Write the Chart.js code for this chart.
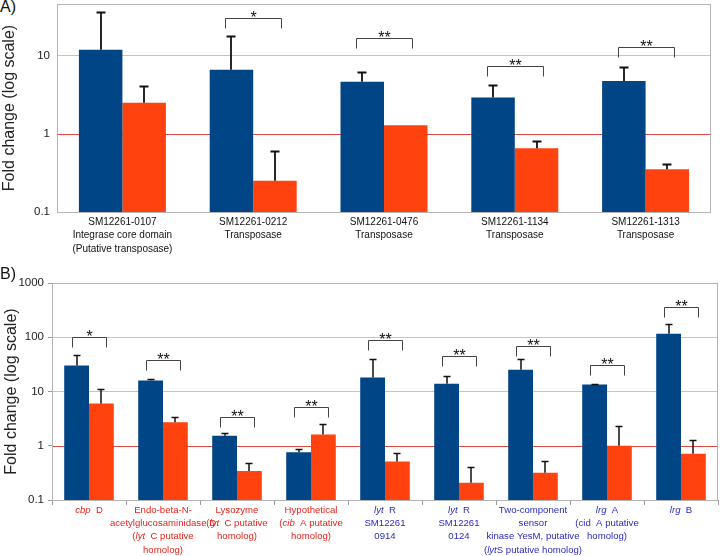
<!DOCTYPE html>
<html lang="en">
<head>
<meta charset="UTF-8">
<title>Fold change</title>
<script src="https://cdn.jsdelivr.net/npm/chart.js@4.4.1/dist/chart.umd.min.js"></script>
<style>
    body {
        margin: 0;
        width: 720px;
        height: 556px;
        position: relative;
        overflow: hidden;
        background: #ffffff;
        font-family: 'Liberation Sans', Arial, sans-serif;
    }
    .panel { position: absolute; left: 0; width: 720px; }
    .tag { position: absolute; left: 0; font-size: 16px; line-height: 16px; color: #111; }
</style>
</head>
<body>

<div class="tag" style="top:-1px">A)</div>
<div class="panel" style="top:0; height:270px"><canvas id="chartA"></canvas></div>
<div class="tag" style="top:266px">B)</div>
<div class="panel" style="top:276px; height:280px"><canvas id="chartB"></canvas></div>

<script>
// ---- panel A data ----
const labelsA = [
    ['SM12261-0107', 'Integrase core domain', '(Putative transposase)'],
    ['SM12261-0212', 'Transposase'],
    ['SM12261-0476', 'Transposase'],
    ['SM12261-1134', 'Transposase'],
    ['SM12261-1313', 'Transposase']
];
const blueA = [11.9, 6.6, 4.64, 2.92, 4.74];
const blueErrA = [36.7, 17.9, 6.24, 4.25, 7.2];   // top of error bar
const orangeA = [2.5, 0.252, 1.29, 0.656, 0.352];
const orangeErrA = [4.16, 0.61, null, 0.80, 0.41];
const sigMarksA = ['', '*', '**', '**', '**'];
const sigLevelsA = [null, 30.7, 17.0, 7.45, 13.0];
const yTicksA = [0.1, 1, 10];

// ---- panel B data ----
// words between *...* are drawn in italics
const labelsB = [
    ['*cbp*  D'],
    ['Endo-beta-N-', 'acetylglucosaminidase D', '(*lyt*  C putative', 'homolog)'],
    ['Lysozyme', '(*lyt*  C putative', 'homolog)'],
    ['Hypothetical', '(*cib*  A putative', 'homolog)'],
    ['*lyt*  R', 'SM12261', '0914'],
    ['*lyt*  R', 'SM12261', '0124'],
    ['Two-component', 'sensor', 'kinase YesM, putative', '(*lyt*S putative homolog)'],
    ['*lrg*  A', '(cid  A putative', 'homolog)'],
    ['*lrg*  B']
];
const blueB = [30.3, 16.0, 1.53, 0.755, 18.2, 13.9, 25.1, 13.5, 115.6];
const blueErrB = [46.8, 16.7, 1.69, 0.88, 39, 19.5, 39, 13.8, 176.6];
const orangeB = [6.0, 2.7, 0.342, 1.62, 0.515, 0.208, 0.318, 1.0, 0.71];
const orangeErrB = [11.1, 3.42, 0.48, 2.51, 0.73, 0.41, 0.53, 2.28, 1.26];
const sigMarksB = ['*', '**', '**', '**', '**', '**', '**', '**', '**'];
const sigLevelsB = [99, 37.4, 3.42, 5.1, 88.5, 45.4, 69.5, 30.3, 354];
const yTicksB = [0.1, 1, 10, 100, 1000];

const baseline = 1;   // no-change reference line

const BLUE = '#004586';
const ORANGE = '#ff420e';
const GRID = '#c4c4c4';
const RED_LINE = '#e0483f';
const FONT = "'Liberation Sans', Arial, sans-serif";
const labelColorsB = labelsB.map((l, i) => i < 4 ? '#e3241b' : '#2b2bc0');

// frame around the plot area + red line at fold change 1 (behind the bars)
const frame = {
    id: 'frame',
    beforeDatasetsDraw(chart) {
        const {ctx, chartArea: a} = chart;
        const y = Math.round(chart.scales.y.getPixelForValue(baseline)) + 0.5;
        ctx.save();
        ctx.strokeStyle = RED_LINE;
        ctx.lineWidth = 1;
        ctx.beginPath();
        ctx.moveTo(a.left, y);
        ctx.lineTo(a.right, y);
        ctx.stroke();
        ctx.strokeStyle = '#b4b4b4';
        ctx.strokeRect(Math.round(a.left) + 0.5, Math.round(a.top) + 0.5,
            Math.round(a.right - a.left) - 1, Math.round(a.bottom - a.top));
        ctx.restore();
    }
};

// error bars drawn upward from each bar top
const errorBars = {
    id: 'errorBars',
    afterDatasetsDraw(chart, args, opts) {
        const ctx = chart.ctx;
        const y = chart.scales.y;
        chart.data.datasets.forEach((ds, d) => {
            chart.getDatasetMeta(d).data.forEach((bar, i) => {
                const top = ds.errTop[i];
                if (top == null) return;
                const yTop = Math.round(y.getPixelForValue(top)) + 0.5;
                const x = Math.round(bar.x);
                ctx.save();
                ctx.strokeStyle = '#111';
                ctx.lineWidth = opts.width;
                ctx.beginPath();
                ctx.moveTo(x, bar.y);
                ctx.lineTo(x, yTop);
                ctx.moveTo(x - opts.cap / 2, yTop);
                ctx.lineTo(x + opts.cap / 2, yTop);
                ctx.stroke();
                ctx.restore();
            });
        });
    }
};

// significance brackets with stars
const sigBrackets = {
    id: 'sigBrackets',
    afterDraw(chart, args, opts) {
        const ctx = chart.ctx;
        const x = chart.scales.x, y = chart.scales.y;
        ctx.save();
        opts.levels.forEach((lv, i) => {
            if (lv == null) return;
            const cx = Math.round(x.getPixelForValue(i)) + 0.5;
            const yy = Math.round(y.getPixelForValue(lv)) + 0.5;
            ctx.strokeStyle = '#444';
            ctx.lineWidth = 1;
            ctx.beginPath();
            ctx.moveTo(cx - opts.half, yy + opts.drop);
            ctx.lineTo(cx - opts.half, yy);
            ctx.lineTo(cx + opts.half, yy);
            ctx.lineTo(cx + opts.half, yy + opts.drop);
            ctx.stroke();
            ctx.fillStyle = '#111';
            ctx.font = '16px ' + FONT;
            ctx.textAlign = 'center';
            ctx.textBaseline = 'alphabetic';
            ctx.fillText(opts.marks[i], cx, yy + 4);
        });
        ctx.restore();
    }
};

// category labels with italic gene names
const richLabels = {
    id: 'richLabels',
    afterDraw(chart, args, opts) {
        if (!opts.labels) return;
        const ctx = chart.ctx;
        const x = chart.scales.x;
        const base = chart.chartArea.bottom;
        ctx.save();
        ctx.textBaseline = 'middle';
        ctx.textAlign = 'left';
        opts.labels.forEach((lines, i) => {
            const cx = x.getPixelForValue(i);
            ctx.fillStyle = opts.colors[i];
            lines.forEach((line, j) => {
                const parts = line.split('*');
                const fonts = parts.map((p, k) => (k % 2 ? 'italic ' : '') + opts.size + 'px ' + FONT);
                let w = 0;
                parts.forEach((p, k) => { ctx.font = fonts[k]; w += ctx.measureText(p).width; });
                let px = cx - w / 2;
                const py = base + opts.first + j * opts.lineHeight;
                parts.forEach((p, k) => {
                    ctx.font = fonts[k];
                    ctx.fillText(p, px, py);
                    px += ctx.measureText(p).width;
                });
            });
        });
        ctx.restore();
    }
};

function makeChart(id, cfg) {
    return new Chart(document.getElementById(id), {
        type: 'bar',
        data: {
            labels: cfg.labels,
            datasets: [
                { data: cfg.blue, errTop: cfg.blueErr, backgroundColor: BLUE,
                  categoryPercentage: cfg.catPct, barPercentage: 1 },
                { data: cfg.orange, errTop: cfg.orangeErr, backgroundColor: ORANGE,
                  categoryPercentage: cfg.catPct, barPercentage: 1 }
            ]
        },
        options: {
            responsive: true,
            maintainAspectRatio: false,
            animation: false,
            layout: { padding: cfg.padding },
            plugins: {
                legend: { display: false },
                tooltip: { enabled: false },
                errorBars: { width: cfg.errWidth, cap: cfg.cap },
                sigBrackets: { levels: cfg.sigLevels, marks: cfg.sigMarks, half: cfg.bracketHalf, drop: 10 },
                richLabels: cfg.rich || {}
            },
            scales: {
                x: {
                    offset: true,
                    border: { display: false },
                    grid: { display: cfg.xTickLen > 0, drawOnChartArea: false, drawTicks: cfg.xTickLen > 0,
                            tickLength: cfg.xTickLen, tickColor: '#9a9a9a', offset: true },
                    ticks: {
                        display: !cfg.rich,
                        maxRotation: 0,
                        autoSkip: false,
                        padding: 3,
                        color: '#111',
                        font: { family: FONT, size: 10, lineHeight: 1.37 }
                    },
                    afterFit: s => { s.height = cfg.xHeight; }
                },
                y: {
                    type: 'logarithmic',
                    min: 0.1,
                    max: cfg.yMax,
                    border: { display: false },
                    grid: {
                        color: c => (c.tick && Math.abs(c.tick.value - baseline) < 1e-9) ? 'rgba(0,0,0,0)' : GRID,
                        tickColor: cfg.yTickColor,
                        tickLength: cfg.yTickLen,
                        drawTicks: true
                    },
                    ticks: {
                        padding: cfg.yTickPad,
                        color: '#222',
                        font: { family: FONT, size: 11.5, lineHeight: 0.5 },
                        callback: v => String(v)
                    },
                    afterBuildTicks: s => { s.ticks = cfg.yTicks.map(v => ({ value: v })); },
                    title: {
                        display: true,
                        text: 'Fold change (log scale)',
                        color: '#222',
                        padding: { top: cfg.titlePad, bottom: 0 },
                        font: { family: FONT, size: 16 }
                    },
                    afterFit: s => { s.width = cfg.yWidth; }
                }
            }
        },
        plugins: [frame, errorBars, sigBrackets, richLabels]
    });
}

makeChart('chartA', {
    labels: labelsA,
    blue: blueA, blueErr: blueErrA,
    orange: orangeA, orangeErr: orangeErrA,
    sigLevels: sigLevelsA, sigMarks: sigMarksA,
    yTicks: yTicksA, yMax: 46,
    catPct: 0.665, errWidth: 1.8, cap: 9, bracketHalf: 28,
    padding: { top: 4, right: 9, left: 0, bottom: 0 },
    xHeight: 58, yWidth: 57, xTickLen: 0,
    yTickLen: 7, yTickPad: 0, yTickColor: 'rgba(0,0,0,0)', titlePad: 0
});

makeChart('chartB', {
    labels: labelsB.map(l => l.join(' ').replace(/\*/g, '')),
    blue: blueB, blueErr: blueErrB,
    orange: orangeB, orangeErr: orangeErrB,
    sigLevels: sigLevelsB, sigMarks: sigMarksB,
    yTicks: yTicksB, yMax: 1000,
    catPct: 0.67, errWidth: 1.5, cap: 7, bracketHalf: 17,
    padding: { top: 7, right: 2, left: 0, bottom: 0 },
    xHeight: 56, yWidth: 52, xTickLen: 5,
    yTickLen: 4, yTickPad: 4, yTickColor: '#9a9a9a', titlePad: 2,
    rich: { labels: labelsB, colors: labelColorsB, size: 9.6, first: 10, lineHeight: 13.3 }
});
</script>
</body>
</html>
